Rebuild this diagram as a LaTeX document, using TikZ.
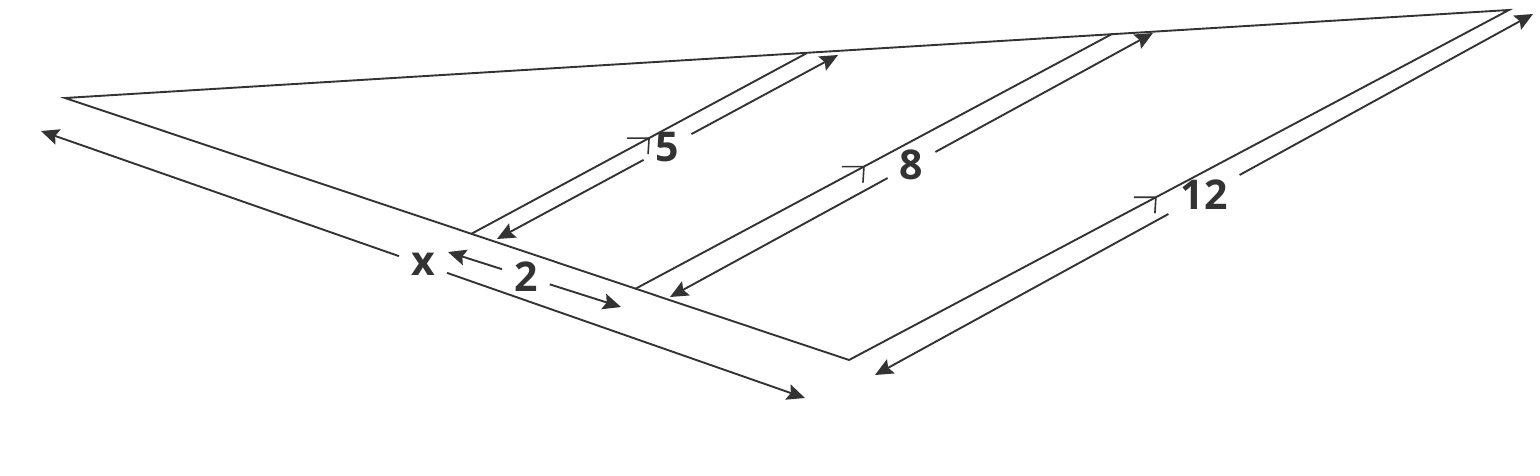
\documentclass[tikz,border=0pt]{standalone}
\usepackage{fontspec}
\setmainfont{Open Sans}
\usepackage{xcolor}
\usetikzlibrary{arrows.meta}
\definecolor{ink}{HTML}{333333}

\begin{document}
\begin{tikzpicture}[x=1pt,y=-1pt,
	edge/.style={draw=ink,line width=1.9pt},
	dimline/.style={draw=ink,line width=1.9pt,-{Stealth[length=18pt,width=16pt,inset=3pt]}},
	parmark/.style={draw=ink,line width=1.6pt},
	lbl/.style={text=ink,inner sep=12pt,font=\fontsize{41}{48}\selectfont\bfseries}]
	\useasboundingbox (0,0) rectangle (1540,476);
	
	\coordinate (A) at (65,98);
	\coordinate (B) at (1509,10);
	\coordinate (C) at (849,360);
	\coordinate (P1) at (471,234);
	\coordinate (Q1) at (807,53);
	\coordinate (P2) at (635,289);
	\coordinate (Q2) at (1112,34);
	
	\draw[edge] (A) -- (B) -- (C) -- cycle;
	\draw[edge] (P1) -- (Q1);
	\draw[edge] (P2) -- (Q2);
	
	\path (P1) -- (Q1) coordinate[pos=0.53] (m1);
	\path (P2) -- (Q2) coordinate[pos=0.48] (m2);
	\path (C) -- (B) coordinate[pos=0.465] (m3);
	\draw[parmark] ([xshift=-22pt]m1) -- (m1) -- ([shift={(-1pt,-16pt)}]m1);
	\draw[parmark] ([xshift=-22pt]m2) -- (m2) -- ([shift={(-1pt,-16pt)}]m2);
	\draw[parmark] ([xshift=-22pt]m3) -- (m3) -- ([shift={(-1pt,-16pt)}]m3);
	
	\coordinate (d5a) at (497,239);
	\coordinate (d5b) at (838,55);
	\coordinate (d8a) at (670,297);
	\coordinate (d8b) at (1153,33);
	\coordinate (d12a) at (875,375);
	\coordinate (d12b) at (1533,14);
	\coordinate (dxa) at (41,131);
	\coordinate (dxb) at (805,398);
	\coordinate (d2a) at (448,252);
	\coordinate (d2b) at (621,307);
	
	\path (d5a) -- (d5b) node[lbl,pos=0.5] (l5) {5};
	\path (d8a) -- (d8b) node[lbl,pos=0.5] (l8) {8};
	\path (d12a) -- (d12b) node[lbl,pos=0.5] (l12) {12};
	\path (dxa) -- (dxb) node[lbl,pos=0.5] (lx) {x};
	\path (d2a) -- (d2b) node[lbl,pos=0.45] (l2) {2};
	
	\draw[dimline] (l5) -- (d5a);
	\draw[dimline] (l5) -- (d5b);
	\draw[dimline] (l8) -- (d8a);
	\draw[dimline] (l8) -- (d8b);
	\draw[dimline] (l12) -- (d12a);
	\draw[dimline] (l12) -- (d12b);
	\draw[dimline] (lx) -- (dxa);
	\draw[dimline] (lx) -- (dxb);
	\draw[dimline] (l2) -- (d2a);
	\draw[dimline] (l2) -- (d2b);
\end{tikzpicture}
\end{document}
